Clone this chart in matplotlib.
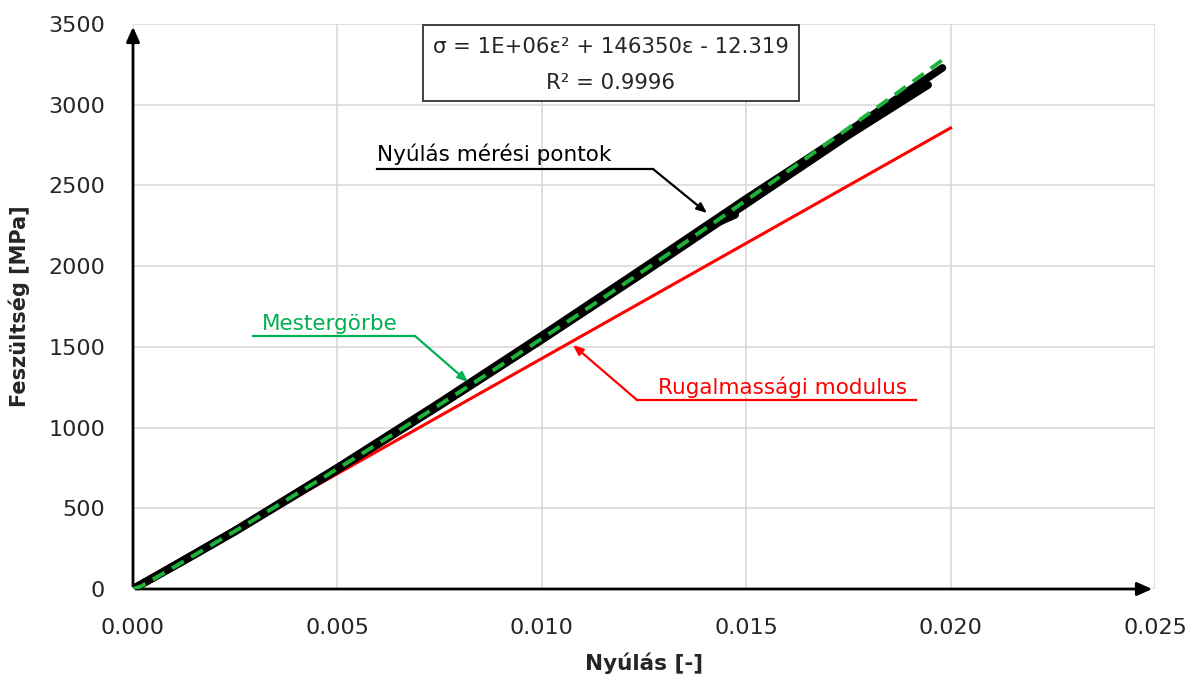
import numpy as np
import matplotlib
matplotlib.use('Agg')
import matplotlib.pyplot as plt

# Nyúlás mérési pontok (leolvasott görbék)
eps_a = [0.0, 0.00125, 0.0025, 0.005, 0.0075, 0.010, 0.0125, 0.015, 0.0175, 0.0198]
sig_a = [0, 180, 362, 748, 1148, 1560, 1980, 2405, 2835, 3228]
eps_b = [0.0, 0.00125, 0.0025, 0.005, 0.0075, 0.010, 0.0125, 0.015, 0.0175, 0.01945]
sig_b = [0, 175, 356, 738, 1135, 1543, 1960, 2385, 2810, 3122]
eps_c = [0.0, 0.00125, 0.0025, 0.005, 0.0075, 0.010, 0.0125, 0.0142, 0.01473]
sig_c = [0, 177, 359, 742, 1140, 1550, 1968, 2258, 2318]
eps_d = [0.0, 0.00125, 0.0025, 0.005, 0.0075, 0.010, 0.0125, 0.015, 0.0175, 0.0192]
sig_d = [0, 181, 363, 752, 1155, 1570, 1992, 2418, 2832, 3110]

# Mestergörbe: sigma = 1E+06 eps^2 + 146350 eps - 12.319
fit_coef = [1.0e6, 146350, -12.319]
fit_eps_max = 0.0198

# Rugalmassági modulus (egyenes)
mod_eps = [0.0, 0.020]
mod_sig = [0, 2856]

xticks = [0.000, 0.005, 0.010, 0.015, 0.020, 0.025]
yticks = [0, 500, 1000, 1500, 2000, 2500, 3000, 3500]

plt.rcParams['font.family'] = ['DejaVu Sans']
green = '#00B050'

fig = plt.figure(figsize=(12, 6.81), dpi=100)
ax = fig.add_axes([133 / 1200, 92 / 681, 1022 / 1200, 565 / 681])
ax.set_xlim(0, 0.025)
ax.set_ylim(0, 3500)
ax.set_xticks(xticks)
ax.set_yticks(yticks)
ax.set_xticklabels(['{:.3f}'.format(v) for v in xticks])
ax.grid(True, color='#D9D9D9', linewidth=1.2)
ax.set_axisbelow(True)
for s in ax.spines.values():
    s.set_visible(False)
ax.tick_params(length=0, labelsize=16, colors='#262626')
ax.tick_params(axis='x', pad=21)
ax.tick_params(axis='y', pad=20)

# tengelyek nyíllal
ax.annotate('', xy=(0.025, 0), xytext=(0, 0), annotation_clip=False,
            arrowprops=dict(arrowstyle='-|>,head_length=0.9,head_width=0.4', color='black', lw=2))
ax.annotate('', xy=(0, 3500), xytext=(0, 0), annotation_clip=False,
            arrowprops=dict(arrowstyle='-|>,head_length=0.9,head_width=0.4', color='black', lw=2))

# mérési pontok
for e, s in [(eps_a, sig_a), (eps_b, sig_b), (eps_c, sig_c), (eps_d, sig_d)]:
    ax.plot(e, s, color='black', lw=5.5, solid_capstyle='round',
            solid_joinstyle='round', zorder=3)

# modulus
ax.plot(mod_eps, mod_sig, color='#FF0000', lw=2.2, zorder=2)

# mestergörbe
ex = np.linspace(0, fit_eps_max, 100)
ax.plot(ex, np.polyval(fit_coef, ex).clip(min=0), color='#1DB33B', lw=2.8,
        dashes=(3.5, 2.2), zorder=4)

ax.set_xlabel('Nyúlás [-]', fontsize=15.5, fontweight='bold', labelpad=10, color='#262626')
ax.set_ylabel('Feszültség [MPa]', fontsize=15, fontweight='bold', labelpad=13, color='#262626')


def px(x, y):
    return ((x - 133) * 0.025 / 1022, (589 - y) * 3500 / 565)


def callout(text, color, tx, ty, u0, u1, uy, tip, from_left=False):
    a = px(u0, uy)
    b = px(u1, uy)
    ax.plot([a[0], b[0]], [a[1], b[1]], color=color, lw=1.6, clip_on=False, zorder=5)
    ax.annotate('', xy=px(*tip), xytext=a if from_left else b,
                arrowprops=dict(arrowstyle='-|>,head_length=0.6,head_width=0.25',
                                color=color, lw=1.6, shrinkA=0, shrinkB=0), zorder=5)
    ax.text(*px(tx, ty), text, color=color, fontsize=15.5, ha='left', va='baseline', zorder=5)


callout('Nyúlás mérési pontok', 'black', 377, 161, 377, 653, 169, (707, 213))
callout('Mestergörbe', green, 262, 330, 253, 415, 336, (468, 382))
callout('Rugalmassági modulus', '#FF0000', 658, 394, 637, 916, 400, (573, 345), from_left=True)

# egyenlet doboz
x0, y0 = px(423, 101)
x1, y1 = px(799, 25)
ax.add_patch(plt.Rectangle((x0, y0), x1 - x0, y1 - y0, fill=True, facecolor='white',
                           edgecolor='#404040', lw=1.4, zorder=6, clip_on=False))
ax.text(*px(611, 47), 'σ = 1E+06ε² + 146350ε - 12.319', fontsize=15.3, ha='center',
        va='center', color='#262626', zorder=7)
ax.text(*px(611, 83), 'R² = 0.9996', fontsize=15.3, ha='center', va='center',
        color='#262626', zorder=7)

plt.savefig('out.png', dpi=100)
